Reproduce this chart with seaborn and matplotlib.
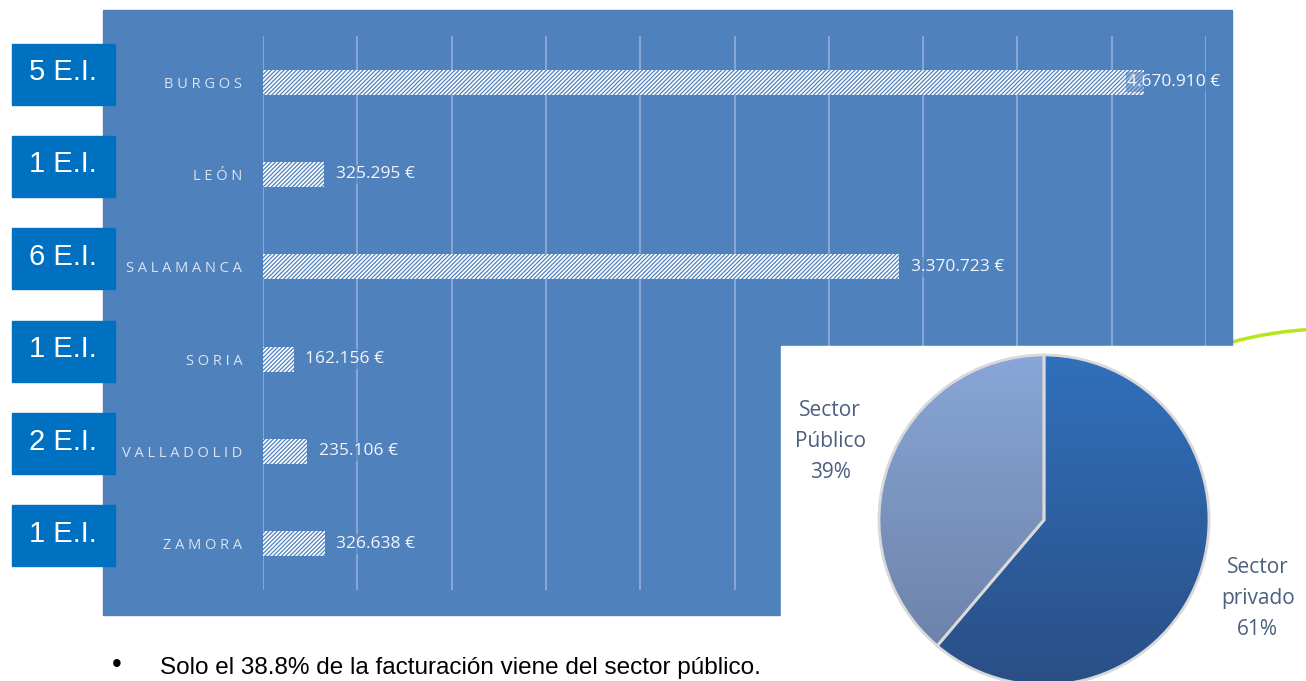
import numpy as np
import pandas as pd
import matplotlib
matplotlib.use('Agg')
import matplotlib.pyplot as plt
import seaborn as sns
from matplotlib.patches import Rectangle, Arc
from matplotlib.colors import LinearSegmentedColormap

sns.set_style('white')
plt.rcParams['font.family'] = ['Open Sans', 'DejaVu Sans']
plt.rcParams['hatch.linewidth'] = 0.9

# datos
provincias = ['BURGOS', 'LEÓN', 'SALAMANCA', 'SORIA', 'VALLADOLID', 'ZAMORA']
facturacion = [4670910, 325295, 3370723, 162156, 235106, 326638]
empresas = [5, 1, 6, 1, 2, 1]
sectores = ['Sector\nprivado\n61%', 'Sector\nPúblico\n39%']
cuota = [61.2, 38.8]
nota = 'Solo el 38.8% de la facturación viene del sector público.'

W, H = 1306, 681
AZUL = '#4F81BD'

def fx(px):
    return px / W

def fy(py):
    return 1 - py / H

fig = plt.figure(figsize=(W / 100, H / 100), dpi=100)
fig.patch.set_facecolor('white')

# decoracion verde y panel azul de fondo
fig.patches.append(Arc((fx(1330), fy(705)), 2 * 376 / W, 2 * 376 / H, theta1=80, theta2=107,
                       transform=fig.transFigure, color='#B5E61D', lw=2.5, zorder=-3))
fig.patches.append(Rectangle((fx(103), fy(615)), (1232 - 103) / W, (615 - 10) / H,
                             transform=fig.transFigure, color=AZUL, zorder=-2))

# barras
df = pd.DataFrame({'provincia': provincias, 'facturacion': facturacion})
ax = fig.add_axes([fx(263), fy(590), (1206 - 263) / W, (590 - 36) / H], zorder=0)
ax.set_facecolor('none')
sns.barplot(data=df, x='facturacion', y='provincia', orient='h', ax=ax,
            color='white', width=0.27, saturation=1)
for bar in ax.patches:
    bar.set_facecolor('white')
    bar.set_edgecolor(AZUL)
    bar.set_linewidth(0)
    bar.set_hatch('////////')

ax.set_xlim(0, 5.0e6)
ax.set_ylim(len(provincias) - 0.5, -0.5)
ax.set_xticks(np.arange(0, 5.0e6 + 1, 5e5))
ax.grid(axis='x', color='#86A7D6', lw=1.5)
ax.grid(axis='y', visible=False)
ax.set_axisbelow(True)
for s in ax.spines.values():
    s.set_visible(False)
ax.tick_params(axis='x', length=0, labelbottom=False)
ax.tick_params(axis='y', length=0, pad=15)
ax.set_yticks(range(len(provincias)))
ax.set_yticklabels([' '.join(p) for p in provincias], color='#D9E3F1', fontsize=10.5)
ax.set_xlabel('')
ax.set_ylabel('')

vmax = max(facturacion)
for i, v in enumerate(facturacion):
    txt = f'{v:,}'.replace(',', '.') + ' €'
    dx = -12 if v == vmax else 8.5
    ax.annotate(txt, xy=(v, i), xytext=(dx, 0), textcoords='offset points',
                ha='left', va='center', color='#F4F6FA', fontsize=12.5,
                bbox=dict(boxstyle='square,pad=0.1', fc=AZUL, ec='none', alpha=0.6))

# recuadros E.I.
for i, n in enumerate(empresas):
    yc = 36 + (i + 0.5) * (590 - 36) / len(provincias) - 8
    fig.patches.append(Rectangle((fx(12), fy(yc + 30.5)), 103 / W, 61 / H,
                                 transform=fig.transFigure, color='#0070C0', zorder=-1))
    fig.text(fx(63), fy(yc - 2), f'{n} E.I.', ha='center', va='center', color='white',
             fontsize=21, family=['Liberation Sans Narrow', 'Liberation Sans'])

# recuadro blanco de la tarta
fig.patches.append(Rectangle((fx(781), 0), (W - 781) / W, fy(346),
                             transform=fig.transFigure, color='white', zorder=1))

# tarta
axp = fig.add_axes([fx(879), fy(685), 330 / W, 330 / H], zorder=2)
axp.set_facecolor('none')
wedges, texts = axp.pie(cuota, labels=sectores, startangle=90, counterclock=False,
                        colors=['#2D5D9F', '#7A93C0'], labeldistance=1.38,
                        wedgeprops=dict(edgecolor='#D9D9D9', linewidth=2),
                        textprops=dict(ha='center', va='center', color='#4B5F7E',
                                       fontsize=15, linespacing=1.6))
grads = [('#2A4F86', '#3170BC'), ('#6A7EA3', '#88A6D8')]
g = np.linspace(0, 1, 256).reshape(-1, 1)
for w, (c0, c1) in zip(wedges, grads):
    cm = LinearSegmentedColormap.from_list('g', [c0, c1])
    im = axp.imshow(g, extent=(-1, 1, -1, 1), origin='lower', cmap=cm, aspect='auto', zorder=1)
    im.set_clip_path(w)
    w.set_facecolor('none')
    w.set_zorder(2)
axp.set_xlim(-1, 1)
axp.set_ylim(-1, 1)
axp.axis('off')

# texto inferior
fig.text(fx(112), fy(672), '•', ha='left', va='baseline', fontsize=20, color='black',
         family=['Liberation Sans Narrow', 'Liberation Sans'])
fig.text(fx(160), fy(674), nota, ha='left', va='baseline', fontsize=17.5, color='black',
         family=['Liberation Sans Narrow', 'Liberation Sans'])

fig.savefig('out.png', dpi=100)
